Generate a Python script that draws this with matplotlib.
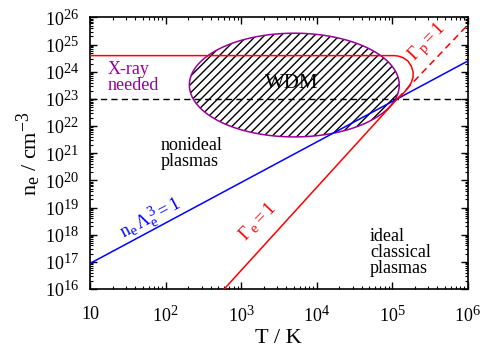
import numpy as np
import matplotlib
matplotlib.use("Agg")
import matplotlib.pyplot as plt
try:
    import matplotlib._mathtext as _mt
    _mt.SHRINK_FACTOR = 0.8
except Exception:
    pass

plt.rcParams['font.family'] = ['Liberation Serif', 'DejaVu Serif']
plt.rcParams['mathtext.fontset'] = 'custom'
plt.rcParams['mathtext.rm'] = 'Liberation Serif'
plt.rcParams['mathtext.it'] = 'Liberation Serif'
plt.rcParams['mathtext.bf'] = 'Liberation Serif:bold'
plt.rcParams['hatch.linewidth'] = 1.0

# ---- data ----
# electron degeneracy line n_e Lambda_e^3 = 1
T_deg = [10, 1e6]
n_deg = [8.7e16, 2.45e24]

# Gamma_e = 1 (solid): classical branch + bend into degenerate branch
T_gam_e = [600, 1.2e5, 1.40e5, 1.62e5, 1.80e5, 1.90e5, 1.90e5, 1.80e5, 1.62e5, 1.40e5, 1.22e5, 1.08e5, 10]
n_gam_e = [1.0e16, 1.07e23, 1.55e23, 2.5e23, 4.0e23, 6.3e23, 1.0e24, 1.6e24, 2.5e24, 3.3e24, 3.75e24, 3.93e24, 3.93e24]

# Gamma_p = 1 (dashed)
T_gam_p = [1.2e5, 1e6]
n_gam_p = [1.07e23, 5.2e25]

# X-ray threshold density (dashed black)
T_xray = [10, 1e6]
n_xray = [1e23, 1e23]

# WDM region (ellipse in log-log space): centre and half-widths in decades
wdm_logT_c, wdm_logn_c = 3.706, 23.51
wdm_halfT, wdm_halfn = 1.39, 1.91

xtick_vals = [10, 1e2, 1e3, 1e4, 1e5, 1e6]
xtick_labels = ['10', r'$10^{2}$', r'$10^{3}$', r'$10^{4}$', r'$10^{5}$', r'$10^{6}$']
ytick_vals = [10.0**k for k in range(16, 27)]
ytick_labels = [r'$10^{%d}$' % k for k in range(16, 27)]

purple = '#990099'

fig = plt.figure(figsize=(4.8, 3.49), dpi=100)
ax = fig.add_axes([0.1875, 0.172, 0.7865, 0.778])
ax.set_xscale('log')
ax.set_yscale('log')
ax.set_xlim(10, 1e6)
ax.set_ylim(1e16, 1e26)

# ellipse
th = np.linspace(0, 2 * np.pi, 400)
ex = 10 ** (wdm_logT_c + wdm_halfT * np.cos(th))
ey = 10 ** (wdm_logn_c + wdm_halfn * np.sin(th))
ax.fill(ex, ey, facecolor='none', edgecolor='black', hatch='////', linewidth=0, zorder=1)
ax.plot(ex, ey, color=purple, lw=1.1, zorder=2)

ax.plot(T_xray, n_xray, color='black', lw=1.0, ls=(0, (4.5, 3)), zorder=3)
ax.plot(T_deg, n_deg, color='blue', lw=1.1, zorder=3)
ax.plot(T_gam_e, n_gam_e, color='red', lw=1.1, zorder=3)
ax.plot(T_gam_p, n_gam_p, color='red', lw=1.1, ls=(0, (4.5, 3)), zorder=3)

ax.set_xticks(xtick_vals)
ax.set_xticklabels(xtick_labels)
ax.set_yticks(ytick_vals)
ax.set_yticklabels(ytick_labels)
ax.tick_params(which='both', direction='in', top=True, right=True, labelsize=13)
ax.tick_params(axis='x', pad=12)
ax.tick_params(axis='y', pad=8)
ax.tick_params(which='major', length=5, width=1)
ax.tick_params(which='minor', length=2.5, width=0.8)
ax.yaxis.set_minor_locator(matplotlib.ticker.LogLocator(base=10, subs=np.arange(2, 10), numticks=100))
ax.yaxis.set_minor_formatter(matplotlib.ticker.NullFormatter())
ax.xaxis.set_minor_locator(matplotlib.ticker.LogLocator(base=10, subs=np.arange(2, 10), numticks=100))
ax.xaxis.set_minor_formatter(matplotlib.ticker.NullFormatter())
for s in ax.spines.values():
    s.set_linewidth(1.2)

ax.set_xlabel('T / K', fontsize=16, labelpad=2)
ax.set_ylabel(r'$\mathrm{n_e}$ / $\mathrm{cm^{-3}}$', fontsize=16, labelpad=1)

ax.text(17.3, 6.3e23, 'X-ray\nneeded', color=purple, fontsize=13, ha='left', va='center', linespacing=0.95)
ax.text(4.7e3, 2.5e23, 'WDM', color='black', fontsize=15, ha='center', va='baseline')
ax.text(86, 1.0e21, 'nonideal\nplasmas', fontsize=13, ha='left', va='center', linespacing=0.95)
ax.text(5.1e4, 2.2e17, 'ideal\nclassical\nplasmas', fontsize=13, ha='left', va='center', linespacing=0.95)

ax.text(64, 4.1e18, r'$\mathrm{n_e\,\Lambda_e^{\,3} = 1}$', color='blue', fontsize=13,
        rotation=28, ha='center', va='center', rotation_mode='anchor')
ax.text(1.68e3, 2.9e18, r'$\Gamma_{\,\mathrm{e}} = 1$', color='red', fontsize=13,
        rotation=46, ha='center', va='center', rotation_mode='anchor')
ax.text(3.0e5, 1.2e25, r'$\Gamma_{\,\mathrm{p}} = 1$', color='red', fontsize=13,
        rotation=46, ha='center', va='center', rotation_mode='anchor')

fig.savefig('out.png', dpi=100)
